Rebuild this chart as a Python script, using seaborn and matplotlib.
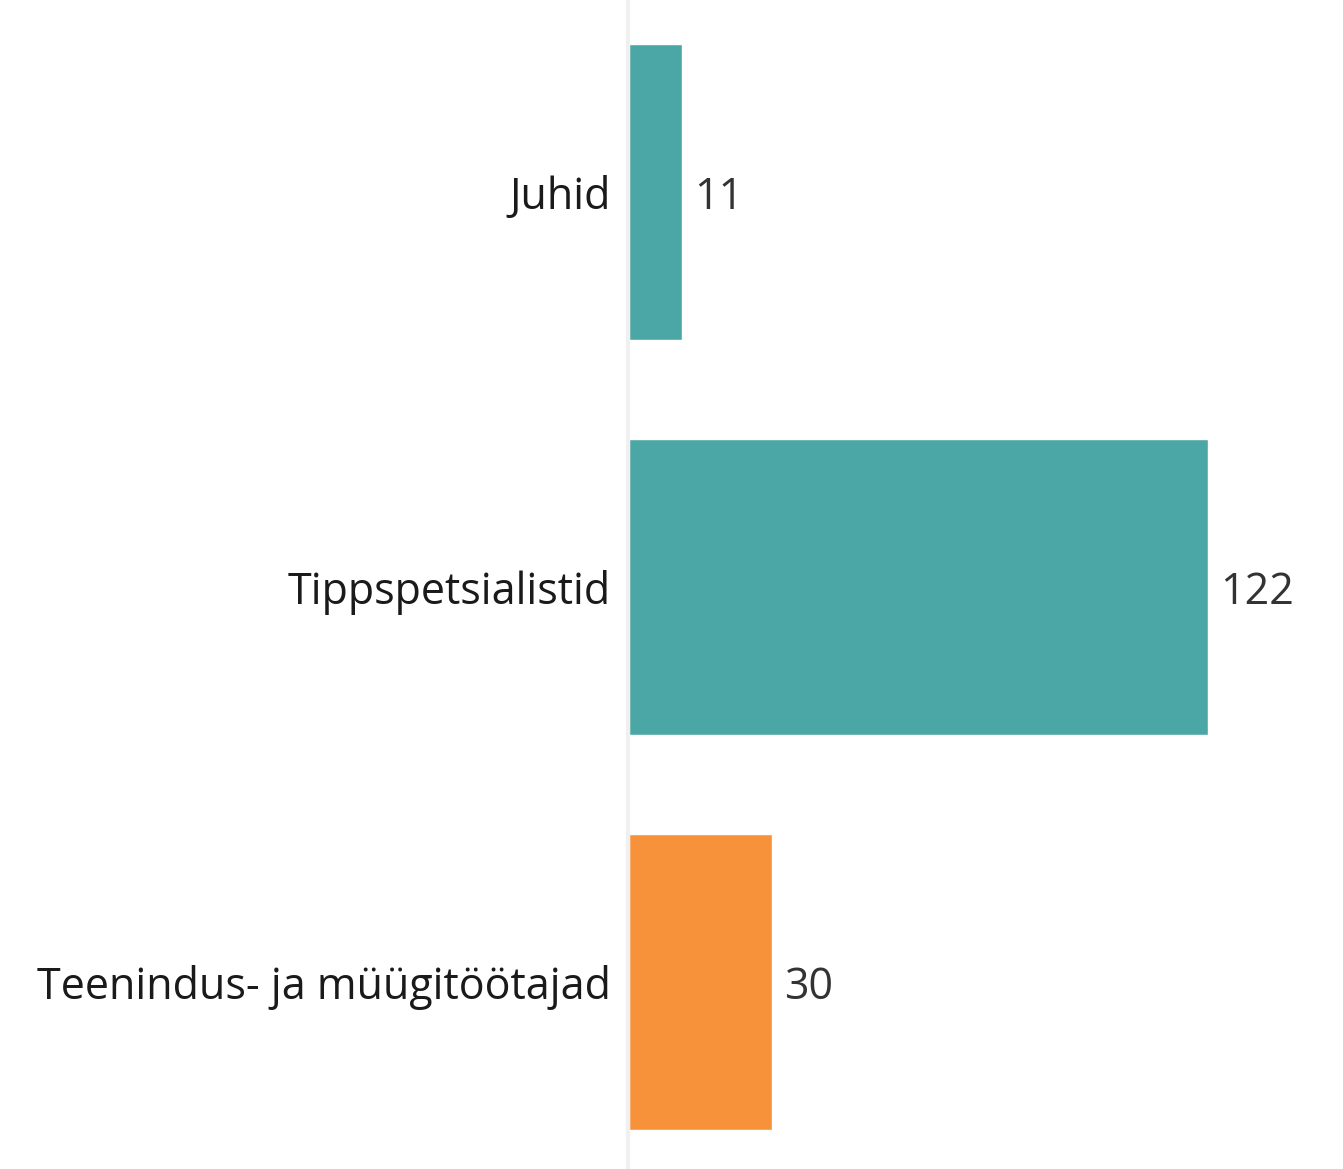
import matplotlib
matplotlib.use("Agg")
import matplotlib.pyplot as plt
import seaborn as sns
import pandas as pd

# Andmed
categories = ["Juhid", "Tippspetsialistid", "Teenindus- ja müügitöötajad"]
values = [11, 122, 30]
bar_colors = ["#4BA7A5", "#4BA7A5", "#F7923A"]


def main():
    sns.set_style("white")
    plt.rcParams["font.family"] = ["Open Sans", "DejaVu Sans"]

    df = pd.DataFrame({"kategooria": categories, "arv": values})

    fig = plt.figure(figsize=(13.43, 11.69), dpi=100)
    ax = fig.add_axes([628 / 1343, 0, 1 - 628 / 1343, 1])

    sns.barplot(data=df, x="arv", y="kategooria", hue="kategooria",
                palette=bar_colors, width=0.75, legend=False, ax=ax,
                orient="h", saturation=1)

    ax.set_xlim(-0.3, 150.5)
    ax.set_ylim(2.473, -0.486)

    for i, v in enumerate(values):
        ax.text(v + 2.6, i, str(v), va="center_baseline", ha="left",
                fontsize=31, color="#333333")

    ax.set_xlabel("")
    ax.set_ylabel("")
    ax.set_xticks([])
    ax.tick_params(axis="y", length=0, pad=12, labelsize=31, labelcolor="#1a1a1a")
    for side in ["top", "right", "bottom"]:
        ax.spines[side].set_visible(False)
    ax.spines["left"].set_color("#f0f0f0")
    ax.spines["left"].set_linewidth(3)

    fig.savefig("out.png", dpi=100)
    plt.close(fig)


if __name__ == "__main__":
    main()
